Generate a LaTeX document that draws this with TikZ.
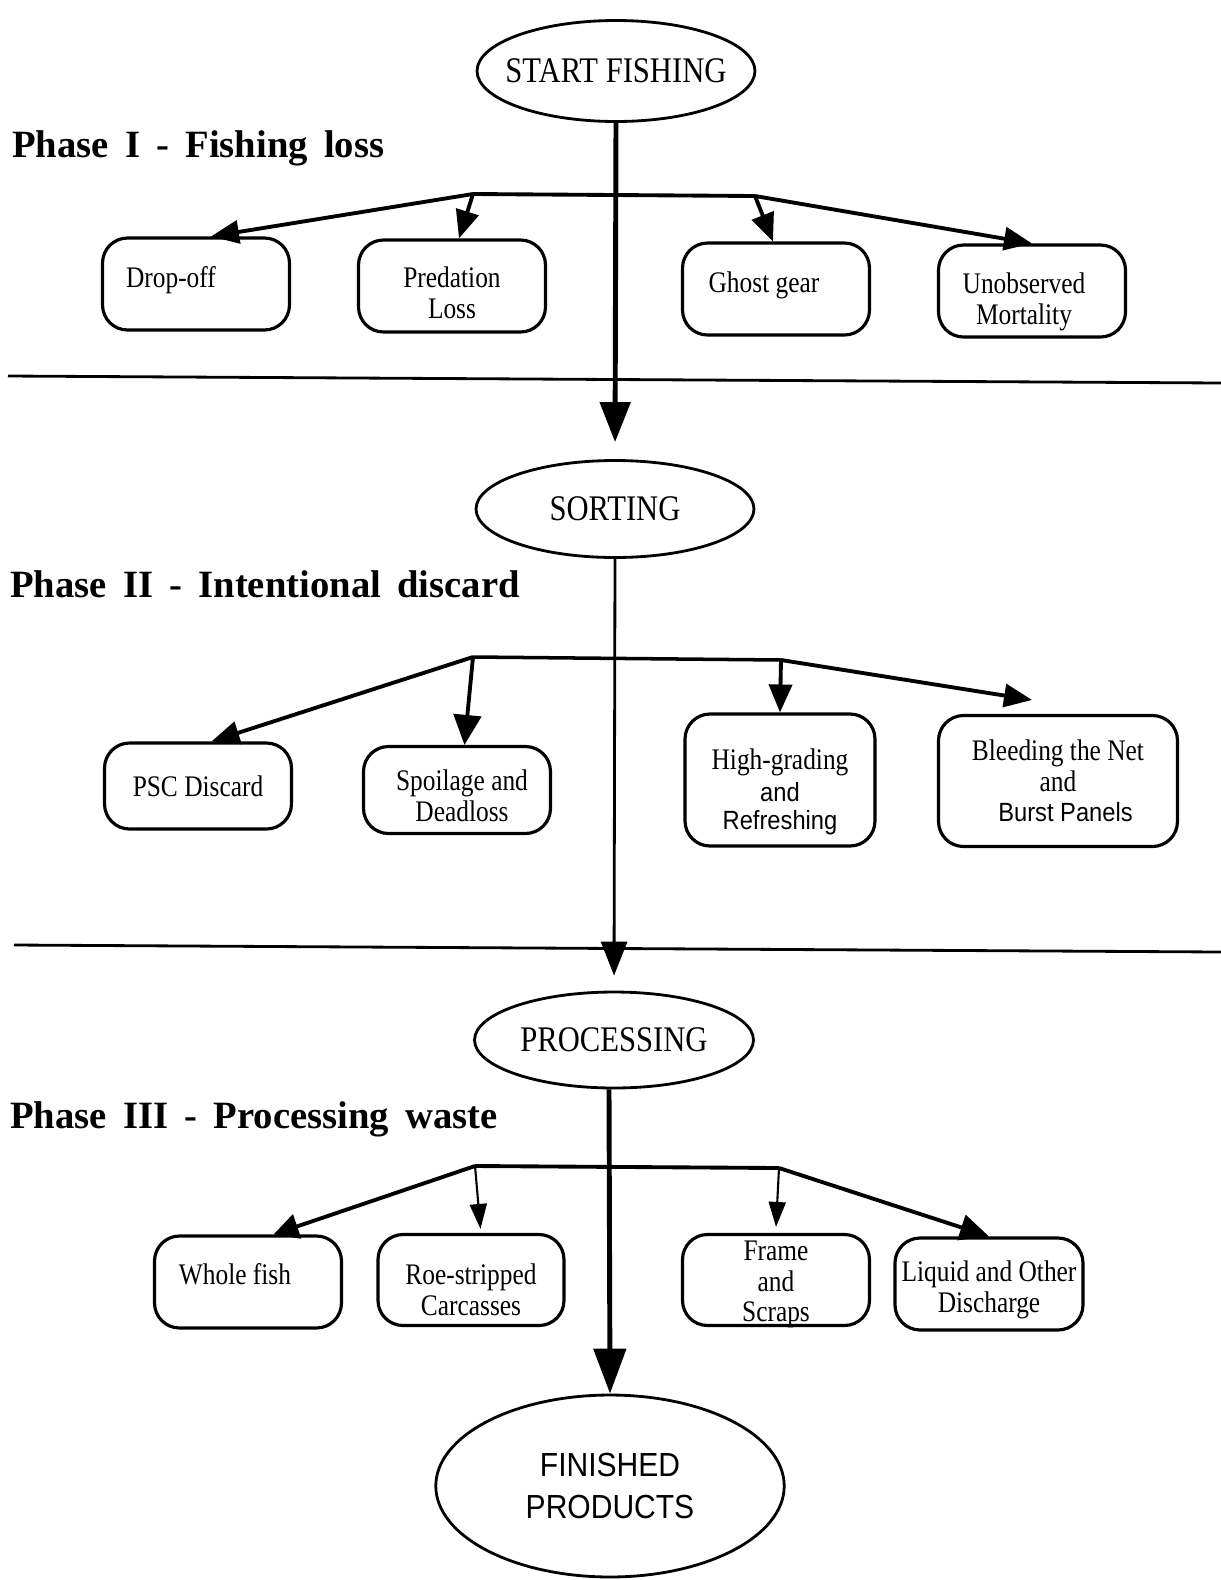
\documentclass[tikz,border=0pt]{standalone}
\usepackage{fontspec}
\setmainfont{Liberation Serif}
\newfontfamily\condserif[FakeStretch=0.85]{Liberation Serif}
\newfontfamily\condsans[FakeStretch=0.9]{Liberation Sans}
\newcommand\sanspart[1]{{\condsans\fontsize{15}{18}\selectfont #1}}
\newcommand\widewords{\spaceskip 0.42em\relax}
% struts that move a box text down (tall) or up (deep)
\newcommand\tallstrut[1]{\rule{0pt}{#1}}
\newcommand\deepstrut[1]{\rule[-#1]{0pt}{#1}}
\usetikzlibrary{arrows.meta,shapes.geometric}

\begin{document}
\begin{tikzpicture}[
    x=0.02cm, y=-0.02cm,
    box/.style={draw, line width=1.8pt, rounded corners=0.5cm, align=center, inner sep=0pt, minimum width=3.74cm, minimum height=1.84cm, font=\condserif\fontsize{17}{17.5}\selectfont},
    oval/.style={draw, ellipse, line width=1.6pt, align=center, inner ysep=0pt, inner xsep=-0.4cm, minimum width=5.56cm, minimum height=1.94cm, font=\condserif\fontsize{20.5}{23}\selectfont},
    phase/.style={anchor=west, inner sep=0pt, font=\bfseries\fontsize{22}{24}\selectfont\widewords},
    branch/.style={-{Triangle[length=0.56cm, width=0.46cm]}, line width=2.2pt},
    thinbranch/.style={-{Triangle[length=0.5cm, width=0.34cm]}, line width=1.2pt},
    mainline/.style={-{Triangle[length=0.8cm, width=0.6cm]}, line width=2.8pt},
    sepline/.style={line width=1.6pt}
]
\useasboundingbox (0,0) rectangle (1221,1580);

\node[oval, minimum height=2.02cm] (start) at (616,71) {START FISHING};
\node[oval] (sort) at (615,509) {SORTING};
\node[oval, minimum width=5.58cm, minimum height=1.92cm] (proc) at (614,1040) {PROCESSING};
\node[oval, minimum width=6.97cm, minimum height=3.64cm, font=\condsans\fontsize{19}{23.4}\selectfont] (done) at (610,1486) {FINISHED\\PRODUCTS};

\node[phase] (ph1) at (12,148) {Phase I - Fishing loss};
\node[phase] (ph2) at (10,584) {Phase II - Intentional discard};
\node[phase] (ph3) at (10,1119) {Phase III - Processing waste};

% phase I
\node[box] (drop) at (196,284) {\deepstrut{8.3pt}Drop-off\hspace*{1cm}};
\node[box] (pred) at (452,286) {\tallstrut{19.6pt}Predation\\Loss};
\node[box] (ghost) at (776,289) {\deepstrut{8.3pt}Ghost gear\hspace*{0.48cm}};
\node[box] (unobs) at (1032,291) {\tallstrut{24.2pt}Unobserved\hspace*{0.32cm}\\Mortality\hspace*{0.32cm}};

% phase II
\node[box, minimum height=1.72cm] (psc) at (198,786) {PSC Discard};
\node[box, minimum height=1.74cm] (spoil) at (457,790) {\tallstrut{18.5pt}\hspace*{0.2cm}Spoilage and\\\hspace*{0.2cm}Deadloss};
\node[box, minimum width=3.8cm, minimum height=2.64cm] (grade) at (780,780) {\tallstrut{25pt}High-grading\\[1pt]\sanspart{and}\\[-2pt]\sanspart{Refreshing}};
\node[box, minimum width=4.78cm, minimum height=2.62cm] (bleed) at (1058,781) {Bleeding the Net\\and\\\hspace*{0.3cm}\sanspart{Burst Panels}};

% phase III
\node[box] (whole) at (248,1282) {\deepstrut{9.2pt}Whole fish\hspace*{0.52cm}};
\node[box, minimum width=3.72cm, minimum height=1.82cm] (roe) at (471,1280) {\tallstrut{23pt}Roe-stripped\\Carcasses};
\node[box, minimum height=1.82cm, inner ysep=-5pt] (frame) at (776,1280) {\tallstrut{16.2pt}Frame\\and\\Scraps};
\node[box, minimum width=3.76cm] (liquid) at (989,1284) {\tallstrut{18.5pt}Liquid and Other\\Discharge};

\draw[sepline] (8,376) -- (1221,383);
\draw[sepline] (14,945) -- (1221,952);

\draw[mainline, shorten >=0.34cm] (start.south) -- (sort.north);
\draw[mainline, line width=1.6pt, -{Triangle[length=0.68cm, width=0.52cm]}, shorten >=0.3cm] (sort.south) -- (proc.north);
\draw[mainline, -{Triangle[length=0.9cm, width=0.64cm]}] ([xshift=-0.1cm]proc.south) -- (done.north);

\coordinate (j1l) at (473,194);
\coordinate (j1r) at (755,196);
\draw[line width=2.2pt] (j1l) -- (j1r);
\draw[branch] (j1l) -- ([xshift=0.3cm]drop.north);
\draw[branch] (j1l) -- ([xshift=0.14cm]pred.north);
\draw[branch] (j1r) -- ([xshift=-0.06cm]ghost.north);
\draw[branch] (j1r) -- (unobs.north);

\coordinate (j2l) at (473,657);
\coordinate (j2r) at (781,660);
\draw[line width=2pt] (j2l) -- (j2r);
\draw[branch] (j2l) -- ([xshift=0.27cm]psc.north);
\draw[branch, -{Triangle[length=0.6cm, width=0.55cm]}] (j2l) -- ([xshift=0.15cm]spoil.north);
\draw[branch] (j2r) -- (grade.north);
\draw[branch] (j2r) -- ([xshift=-0.52cm, yshift=0.28cm]bleed.north);

\coordinate (j3l) at (475,1166);
\coordinate (j3r) at (779,1168);
\draw[line width=2.2pt] (j3l) -- (j3r);
\draw[branch, -{Triangle[length=0.5cm, width=0.5cm]}] (j3l) -- ([xshift=0.51cm]whole.north);
\draw[thinbranch] (j3l) -- ([xshift=0.19cm, yshift=0.08cm]roe.north);
\draw[thinbranch] (j3r) -- ([yshift=0.12cm]frame.north);
\draw[branch, -{Triangle[length=0.58cm, width=0.52cm]}] (j3r) -- (liquid.north);
\end{tikzpicture}
\end{document}
